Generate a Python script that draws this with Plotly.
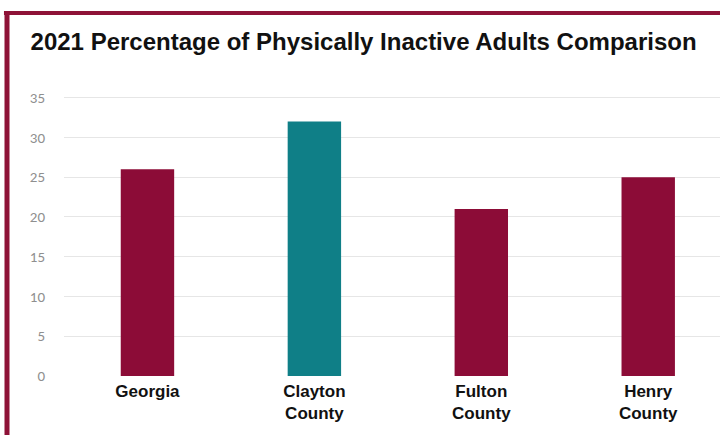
import plotly.graph_objects as go

# Physically inactive adults, 2021 (%)
regions = ["Georgia", "Clayton<br>County", "Fulton<br>County", "Henry<br>County"]
inactive_pct = [26, 32, 21, 25]
bar_colors = ["#8C0C37", "#0F7F87", "#8C0C37", "#8C0C37"]
y_ticks = [0, 5, 10, 15, 20, 25, 30, 35]

fig = go.Figure(
    go.Bar(
        x=regions,
        y=inactive_pct,
        marker=dict(color=bar_colors, line=dict(width=0)),
        width=0.32,
        hoverinfo="x+y",
    )
)

fig.update_layout(
    width=720,
    height=435,
    margin=dict(l=64, r=0, t=96, b=59),
    paper_bgcolor="white",
    plot_bgcolor="white",
    showlegend=False,
    title=dict(
        text="<b>2021 Percentage of Physically Inactive Adults Comparison</b>",
        x=0.505,
        xanchor="center",
        y=0.905,
        yanchor="middle",
        font=dict(family="Liberation Sans, Arial, sans-serif", size=24, color="#111111"),
    ),
    xaxis=dict(
        range=[-0.5, 3.43],
        showgrid=False,
        showline=False,
        zeroline=False,
        ticks="",
        tickfont=dict(family="Liberation Sans, Arial, sans-serif", size=17, color="#111111"),
        ticklabelstandoff=3,
    ),
    yaxis=dict(
        range=[0, 35.2],
        tickvals=y_ticks,
        showgrid=True,
        gridcolor="#E6E6E6",
        gridwidth=1,
        zeroline=False,
        showline=False,
        ticks="",
        ticklabelstandoff=18,
        tickfont=dict(family="Calibri, Carlito, DejaVu Sans, sans-serif", size=15, color="#8F8F8F"),
    ),
    shapes=[
        # frame: top and left edges
        dict(type="line", xref="paper", yref="paper", layer="above",
             x0=-0.0915, x1=1.0, y0=1.2965, y1=1.2965,
             line=dict(color="#8E1237", width=4)),
        dict(type="line", xref="paper", yref="paper", layer="above",
             x0=-0.0869, x1=-0.0869, y0=1.3035, y1=-0.25,
             line=dict(color="#8E1237", width=5)),
    ],
)

fig.update_xaxes(tickfont_weight="bold")

fig.write_html("out.html")
